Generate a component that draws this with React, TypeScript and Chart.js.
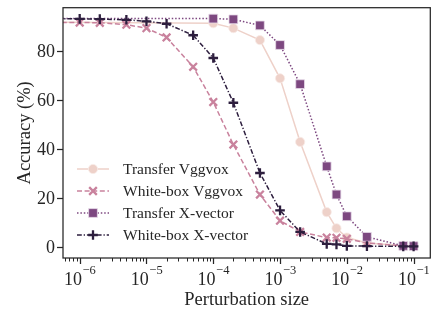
import { useEffect, useRef } from "react";
import { Chart, registerables } from "chart.js";
import { drawPoint } from "chart.js/helpers";

Chart.register(...registerables);

// ---------- data ----------
// CLEAN stands in for perturbation size 0 (clean accuracy); it lies far left of the log axis.
const CLEAN = 1e-9;
const whiteBoxEps = [CLEAN, 1e-6, 2e-6, 5e-6, 1e-5, 2e-5, 5e-5, 1e-4, 2e-4, 5e-4, 1e-3, 2e-3, 5e-3, 7e-3, 1e-2, 2e-2, 7e-2, 1e-1];
const transferEps = [CLEAN, 1e-4, 2e-4, 5e-4, 1e-3, 2e-3, 5e-3, 7e-3, 1e-2, 2e-2, 7e-2, 1e-1];

const transferVggvox = [92.1, 91.3, 89.3, 84.4, 68.8, 42.8, 14.1, 7.5, 3.7, 1.5, 0.4, 0.2];
const whiteBoxVggvox = [91.7, 91.6, 91.5, 90.7, 89.3, 85.5, 73.5, 59.1, 41.7, 21.3, 10.6, 6.0, 3.7, 3.6, 3.2, 1.5, 0.3, 0.2];
const transferXvector = [93.3, 93.2, 92.9, 90.4, 82.4, 66.4, 32.8, 21.3, 12.4, 4.0, 0.3, 0.2];
const whiteBoxXvector = [93.3, 93.1, 93.0, 92.7, 92.1, 91.1, 86.4, 77.1, 58.8, 30.1, 14.8, 6.0, 1.1, 0.9, 0.3, 0.2, 0.1, 0.1];

const seriesNames = ["Transfer Vggvox", "White-box Vggvox", "Transfer X-vector", "White-box X-vector"];
const yTicks = [0, 20, 40, 60, 80];
const xTickExponents = [-6, -5, -4, -3, -2, -1];
const xTitle = "Perturbation size";
const yTitle = "Accuracy (%)";

// ---------- style ----------
const FONT = "'Liberation Serif', 'Times New Roman', serif";
const SPINE = "#262626";
const colors = ["#eed1c9", "#c9829d", "#7d4880", "#2d1e3e"];
const styles = [
  { pointStyle: "circle", radius: 4.6, dash: [] as number[], pbw: 0.8, pbc: "#f7ebe7" },
  { pointStyle: "crossRot", radius: 5.4, dash: [5, 2.6], pbw: 2.3, pbc: "" },
  { pointStyle: "rect", radius: 6.2, dash: [1.5, 1.9], pbw: 0.8, pbc: "#e9dcea" },
  { pointStyle: "cross", radius: 4.8, dash: [4.8, 1.9, 1.3, 1.9], pbw: 2.3, pbc: "" },
];

const X_MIN = Math.pow(10, -6.25);
const X_MAX = Math.pow(10, -0.75);
const Y_MIN = -4.65;
const Y_MAX = 97.65;

function pairs(xs: number[], ys: number[]) {
  return xs.map((x, i) => ({ x, y: ys[i] }));
}

const overlay = {
  id: "overlay",
  afterDatasetsDraw(chart: any) {
    const ctx: CanvasRenderingContext2D = chart.ctx;
    const { left, right, top, bottom } = chart.chartArea;
    const xs = chart.scales.x;
    const ys = chart.scales.y;
    ctx.save();

    // spines
    ctx.strokeStyle = SPINE;
    ctx.lineWidth = 1.25;
    ctx.setLineDash([]);
    ctx.strokeRect(left, top, right - left, bottom - top);

    // y ticks + labels
    ctx.fillStyle = SPINE;
    ctx.font = `18px ${FONT}`;
    ctx.textAlign = "right";
    ctx.textBaseline = "middle";
    for (const v of yTicks) {
      const py = Math.round(ys.getPixelForValue(v)) + 0.5;
      ctx.beginPath();
      ctx.moveTo(left - 6, py);
      ctx.lineTo(left, py);
      ctx.stroke();
      ctx.fillText(String(v), left - 8, py + 1);
    }

    // x major + minor ticks
    for (let e = -7; e <= 0; e++) {
      for (let m = 1; m <= 9; m++) {
        const v = m * Math.pow(10, e);
        if (v < X_MIN || v > X_MAX) continue;
        const px = Math.round(xs.getPixelForValue(v)) + 0.5;
        ctx.lineWidth = m === 1 ? 1.25 : 1;
        ctx.beginPath();
        ctx.moveTo(px, bottom);
        ctx.lineTo(px, bottom + (m === 1 ? 6 : 3.5));
        ctx.stroke();
      }
    }

    // x tick labels 10^e
    ctx.textAlign = "left";
    ctx.textBaseline = "alphabetic";
    for (const e of xTickExponents) {
      const px = xs.getPixelForValue(Math.pow(10, e));
      ctx.font = `18px ${FONT}`;
      const w1 = ctx.measureText("10").width;
      const sup = "\u2212" + String(Math.abs(e));
      ctx.font = `12.5px ${FONT}`;
      const w2 = ctx.measureText(sup).width;
      const start = px - (w1 + w2) / 2;
      ctx.font = `18px ${FONT}`;
      ctx.fillText("10", start, 285);
      ctx.font = `12.5px ${FONT}`;
      ctx.fillText(sup, start + w1 + 0.5, 274);
    }

    // axis titles
    ctx.font = `18.5px ${FONT}`;
    ctx.textAlign = "center";
    ctx.textBaseline = "alphabetic";
    ctx.fillText(xTitle, (left + right) / 2, 305);
    ctx.save();
    ctx.translate(30, (top + bottom) / 2);
    ctx.rotate(-Math.PI / 2);
    ctx.textBaseline = "alphabetic";
    ctx.fillText(yTitle, 0, 0);
    ctx.restore();

    // legend
    const rows = [169, 191, 213, 235];
    ctx.font = `15.5px ${FONT}`;
    ctx.textAlign = "left";
    ctx.textBaseline = "middle";
    seriesNames.forEach((name, i) => {
      const y = rows[i];
      const s = styles[i];
      ctx.strokeStyle = colors[i];
      ctx.lineWidth = 1.5;
      ctx.setLineDash(s.dash);
      ctx.beginPath();
      ctx.moveTo(77, y);
      ctx.lineTo(109, y);
      ctx.stroke();
      ctx.setLineDash([]);
      ctx.fillStyle = colors[i];
      ctx.strokeStyle = s.pbc || colors[i];
      ctx.lineWidth = s.pbw;
      drawPoint(ctx, { pointStyle: s.pointStyle, radius: s.radius, borderWidth: s.pbw, rotation: 0 } as any, 93, y);
      ctx.fillStyle = SPINE;
      ctx.fillText(name, 123, y + 1);
    });

    ctx.restore();
  },
};

export default function App() {
  const ref = useRef<HTMLCanvasElement | null>(null);
  useEffect(() => {
    if (!ref.current) return;
    const xsets = [transferEps, whiteBoxEps, transferEps, whiteBoxEps];
    const ysets = [transferVggvox, whiteBoxVggvox, transferXvector, whiteBoxXvector];
    const datasets = seriesNames.map((name, i) => ({
      label: name,
      data: pairs(xsets[i], ysets[i]),
      borderColor: colors[i],
      backgroundColor: colors[i],
      borderWidth: 1.5,
      borderDash: styles[i].dash,
      pointStyle: styles[i].pointStyle,
      pointRadius: styles[i].radius,
      pointBackgroundColor: colors[i],
      pointBorderColor: styles[i].pbc || colors[i],
      pointBorderWidth: styles[i].pbw,
      tension: 0,
      fill: false,
      order: 3 - i,
    }));
    const chart = new Chart(ref.current, {
      type: "line",
      data: { datasets },
      options: {
        animation: false,
        responsive: false,
        devicePixelRatio: 1,
        layout: { padding: { left: 63, right: 2, top: 2, bottom: 57 } },
        plugins: { legend: { display: false }, tooltip: { enabled: false } },
        scales: {
          x: { type: "logarithmic", min: X_MIN, max: X_MAX, display: false },
          y: { type: "linear", min: Y_MIN, max: Y_MAX, display: false },
        },
      },
      plugins: [overlay],
    } as any);
    return () => chart.destroy();
  }, []);
  return (
    <div style={{ position: "fixed", left: 0, top: 0, width: 438, height: 315, background: "#fff" }}>
      <canvas ref={ref} width={438} height={315} />
    </div>
  );
}
